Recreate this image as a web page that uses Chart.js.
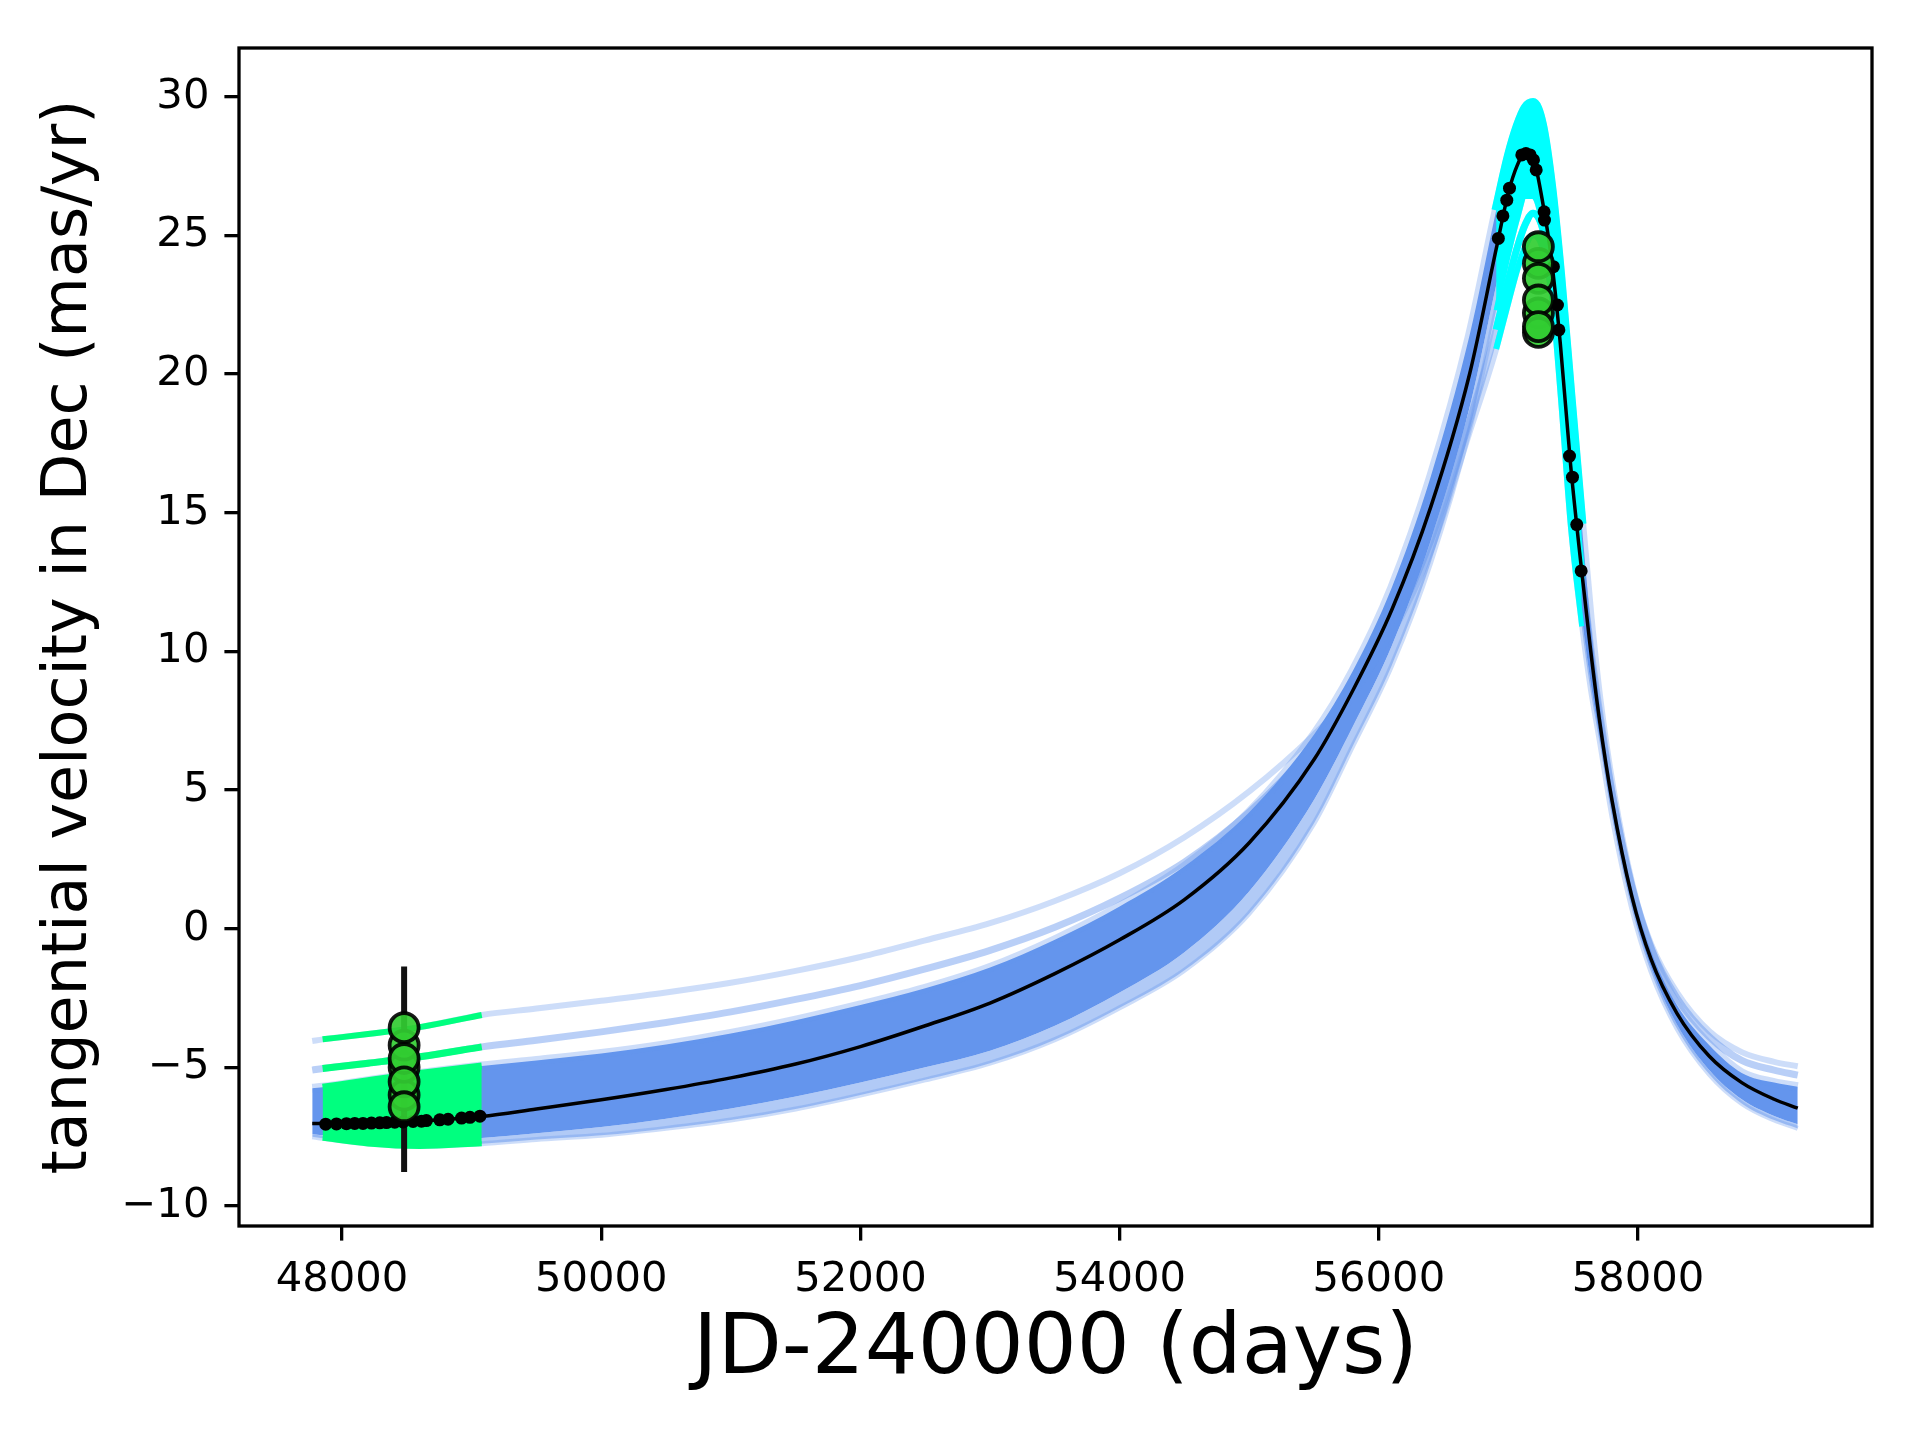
<!DOCTYPE html>
<html><head><meta charset="utf-8">
<script src="https://cdn.jsdelivr.net/npm/chart.js@4.4.0/dist/chart.umd.min.js"></script>
<style>html,body{margin:0;padding:0;background:#fff;}canvas{display:block;}</style>
</head><body>
<canvas id="c" width="1920" height="1440" style="width:1920px;height:1440px"></canvas>
<script>
// ---- sample epochs (JD-240000) where the model curves were read ----
const days = [47770, 47850, 48200, 48600, 49078, 49500, 50000, 50500, 51000, 51500, 52000, 52500, 53000, 53500, 54000, 54500, 55000, 55500, 55800, 56100, 56400, 56700, 56905, 57000, 57070, 57130, 57190, 57260, 57330, 57400, 57480, 57565, 57630, 57700, 57800, 57950, 58100, 58300, 58550, 58800, 59050, 59232];
// best-fit model (black)
const bestFit = [-7.02, -7.02, -7.0, -6.93, -6.77, -6.5, -6.17, -5.8, -5.38, -4.88, -4.25, -3.5, -2.68, -1.62, -0.4, 1.05, 3.1, 6.1, 8.6, 11.5, 15.2, 20.0, 24.5, 26.55, 27.55, 28.0, 27.8, 26.3, 24.2, 21.1, 16.7, 12.9, 10.2, 7.6, 4.6, 1.2, -1.1, -3.05, -4.6, -5.55, -6.15, -6.47];
// dense bundle of posterior model curves: upper edge, lower edge, faint lower fringe
const bundleUpper = [-5.75, -5.72, -5.48, -5.22, -4.95, -4.75, -4.5, -4.18, -3.78, -3.3, -2.75, -2.15, -1.4, -0.4, 0.8, 2.25, 4.2, 7.0, 9.3, 12.3, 16.3, 21.4, 25.9, 27.85, 28.95, 29.6, 29.78, 29.0, 26.8, 23.6, 19.2, 14.6, 11.2, 8.2, 5.0, 1.5, -0.8, -2.75, -4.2, -5.2, -5.55, -5.7];
const bundleLower = [-7.4, -7.45, -7.62, -7.68, -7.55, -7.38, -7.15, -6.85, -6.48, -6.05, -5.55, -5.0, -4.4, -3.5, -2.3, -0.85, 1.35, 4.65, 7.3, 10.2, 14.0, 18.8, 23.2, 25.2, 26.1, 26.6, 26.6, 25.6, 23.4, 19.8, 15.0, 11.3, 9.0, 7.0, 4.2, 0.9, -1.4, -3.45, -5.1, -6.15, -6.75, -7.05];
const bundleFringe = [-7.5, -7.56, -7.76, -7.85, -7.75, -7.6, -7.45, -7.2, -6.9, -6.5, -6.0, -5.45, -4.85, -4.0, -2.85, -1.5, 0.55, 3.8, 6.6, 9.5, 13.2, 18.0, 22.3, 24.3, 25.6, 26.4, 26.4, 25.4, 23.0, 19.2, 14.4, 10.9, 8.7, 6.8, 4.0, 0.75, -1.55, -3.6, -5.25, -6.3, -6.9, -7.2];
// two outlying posterior curves
const curveA = [-4.05, -3.99, -3.8, -3.55, -3.11, -2.88, -2.6, -2.3, -1.95, -1.52, -1.02, -0.42, 0.2, 1.0, 2.0, 3.3, 4.95, 7.0, 8.5, 10.6, 13.6, 17.9, 20.9, 22.6, 23.8, 24.6, 25.0, 24.6, 23.0, 20.3, 16.3, 12.6, 10.1, 7.8, 4.95, 1.65, -0.55, -2.3, -3.7, -4.45, -4.8, -4.96];
const curveB = [-5.1, -5.04, -4.85, -4.62, -4.26, -4.02, -3.72, -3.38, -3.0, -2.55, -2.05, -1.45, -0.78, 0.05, 1.1, 2.4, 4.2, 6.6, 8.4, 10.8, 14.0, 18.3, 21.6, 23.4, 24.6, 25.4, 25.8, 25.3, 23.6, 20.8, 16.6, 12.9, 10.3, 7.9, 4.9, 1.55, -0.7, -2.5, -3.9, -4.75, -5.1, -5.28];
// observing windows highlighted on the curves
const hipWindow = [47850, 49078];
const gaiaWindow = [56905, 57565];
// black data points
const hipDays = [47874, 47957, 48034, 48098, 48162, 48227, 48291, 48343, 48407, 48471, 48548, 48613, 48651, 48754, 48818, 48922, 48987, 49064];
const hipVals = [-7.05, -7.04, -7.03, -7.02, -7.02, -7.01, -7.0, -6.99, -6.98, -6.97, -6.95, -6.94, -6.92, -6.89, -6.87, -6.83, -6.80, -6.76];
const gaiaDays = [56922, 56957, 56987, 57008, 57103, 57135, 57167, 57193, 57214, 57275, 57278, 57347, 57378, 57389, 57471, 57494, 57527, 57561];
const gaiaVals = [24.89, 25.7, 26.27, 26.7, 27.9, 27.95, 27.9, 27.72, 27.36, 25.85, 25.55, 23.87, 22.49, 21.59, 17.04, 16.28, 14.57, 12.9];
// green measurements with error bar
const measLeftDay = 48479;
const measLeftVals = [-6.0, -5.0, -4.2, -3.57, -4.68, -5.52, -6.42];
const measLeftErr = [-8.77, -1.36];
const measRightDay = 57231;
const measRightVals = [22.2, 21.5, 23.99, 24.59, 23.45, 22.67, 21.71];
// axis ticks
const xTicks = [48000, 50000, 52000, 54000, 56000, 58000];
const yTicks = [-10, -5, 0, 5, 10, 15, 20, 25, 30];
const yTickLabels = ['\u221210', '\u22125', '0', '5', '10', '15', '20', '25', '30'];

const BLUE = '#6495ED', BLUE_LIGHT = 'rgba(100,149,237,0.32)', BLUE_MID = 'rgba(100,149,237,0.45)', BLUE_FRINGE = 'rgba(100,149,237,0.5)';
const GREEN = '#00FF7F', CYAN = '#00FFFF';

function pts(vals, win) {
  const out = [];
  days.forEach((d, i) => { if (!win || (d >= win[0] && d <= win[1])) out.push({x: d, y: vals[i]}); });
  return out;
}
function line(data, color, width, order, extra) {
  return Object.assign({data, borderColor: color, borderWidth: width, pointRadius: 0, fill: false,
    cubicInterpolationMode: 'monotone', order}, extra || {});
}
const ds = [];
// 0..4 blue bundle
ds.push(line(pts(bundleUpper), BLUE_LIGHT, 9, 100, {fill: 1, backgroundColor: BLUE}));
ds.push(line(pts(bundleLower), 'rgba(0,0,0,0)', 0, 99, {fill: 2, backgroundColor: BLUE_FRINGE}));
ds.push(line(pts(bundleFringe), BLUE_LIGHT, 5, 98));
ds.push(line(pts(curveB), BLUE_MID, 7, 97));
ds.push(line(pts(curveA), BLUE_LIGHT, 6, 96));
// 5..8 green window
ds.push(line(pts(bundleUpper, hipWindow), GREEN, 7, 90, {fill: 6, backgroundColor: GREEN}));
ds.push(line(pts(bundleFringe, hipWindow), GREEN, 5, 89));
ds.push(line(pts(curveB, hipWindow), GREEN, 7, 88));
ds.push(line(pts(curveA, hipWindow), GREEN, 6, 87));
// 9..12 cyan window
ds.push(line(pts(bundleUpper, gaiaWindow), CYAN, 9.5, 80, {fill: 10, backgroundColor: CYAN}));
ds.push(line(pts(bundleFringe, gaiaWindow), CYAN, 5, 79));
ds.push(line(pts(curveB, gaiaWindow), CYAN, 7, 78));
ds.push(line(pts(curveA, gaiaWindow), CYAN, 6, 77));
// error bar
ds.push({data: measLeftErr.map(v => ({x: measLeftDay, y: v})), borderColor: '#111', borderWidth: 6, pointRadius: 0, fill: false, tension: 0, order: 12});
// best fit
ds.push(line(pts(bestFit), '#000', 3.5, 11));
// data points
ds.push({data: hipDays.map((d, i) => ({x: d, y: hipVals[i]})), showLine: false, pointRadius: 6.5, pointBackgroundColor: '#000', pointBorderWidth: 0, order: 10});
ds.push({data: gaiaDays.map((d, i) => ({x: d, y: gaiaVals[i]})), showLine: false, pointRadius: 6.5, pointBackgroundColor: '#000', pointBorderWidth: 0, order: 10});
ds.push({data: measLeftVals.map(v => ({x: measLeftDay, y: v})), showLine: false, pointRadius: 14.5, pointBackgroundColor: 'rgba(50,205,50,0.92)', pointBorderColor: 'rgba(0,0,0,0.9)', pointBorderWidth: 3.8, order: 5});
ds.push({data: measRightVals.map(v => ({x: measRightDay, y: v})), showLine: false, pointRadius: 14.5, pointBackgroundColor: 'rgba(50,205,50,0.92)', pointBorderColor: 'rgba(0,0,0,0.9)', pointBorderWidth: 3.8, order: 5});

const framePlugin = {id: 'frame', afterDraw(chart) {
  const {ctx, chartArea: {left, top, right, bottom}} = chart;
  ctx.save(); ctx.strokeStyle = '#000'; ctx.lineWidth = 3.3;
  ctx.strokeRect(left, top, right - left, bottom - top); ctx.restore();
}};

const FONT = 'DejaVu Sans';
new Chart(document.getElementById('c'), {
  type: 'line',
  data: {datasets: ds},
  options: {
    responsive: false, animation: false, devicePixelRatio: 1,
    layout: {padding: {left: 0, top: 48, right: 48, bottom: 0}},
    plugins: {legend: {display: false}, tooltip: {enabled: false}},
    scales: {
      x: {type: 'linear', min: 47205, max: 59805,
        afterBuildTicks: s => { s.ticks = xTicks.map(v => ({value: v})); },
        afterFit: s => { s.height = 214; },
        ticks: {autoSkip: false, maxRotation: 0, padding: 14.5, color: '#000', font: {family: FONT, size: 41.7},
          callback: v => String(v)},
        grid: {display: true, drawOnChartArea: false, drawTicks: true, tickLength: 14.6, tickWidth: 3.3, lineWidth: 3.3, tickColor: '#000', color: '#000'},
        border: {display: false},
        title: {display: true, text: 'JD-240000 (days)', color: '#000', font: {family: FONT, size: 83.3}, padding: {top: 0, bottom: 39}}
      },
      y: {type: 'linear', min: -10.72, max: 31.756,
        afterBuildTicks: s => { s.ticks = yTicks.map(v => ({value: v})); },
        afterFit: s => { s.width = 239; },
        ticks: {autoSkip: false, padding: 15, color: '#000', font: {family: FONT, size: 41.7},
          callback: v => yTickLabels[yTicks.indexOf(v)]},
        grid: {display: true, drawOnChartArea: false, drawTicks: true, tickLength: 14.6, tickWidth: 3.3, lineWidth: 3.3, tickColor: '#000', color: '#000'},
        border: {display: false},
        title: {display: true, text: 'tangential velocity in Dec (mas/yr)', color: '#000', font: {family: FONT, size: 62}, padding: {top: 33, bottom: 0}}
      }
    }
  },
  plugins: [framePlugin]
});
</script>
</body></html>
